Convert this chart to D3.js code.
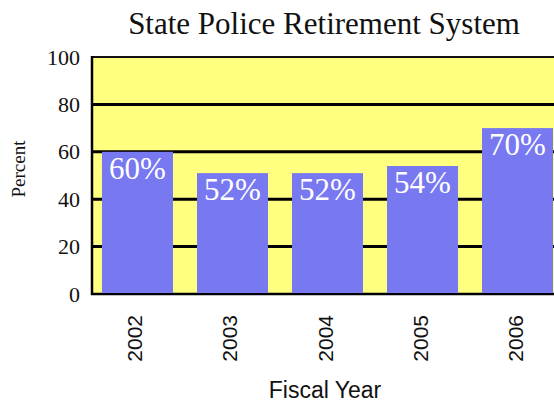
<!DOCTYPE html>
<html><head><meta charset="utf-8">
<script src="https://cdn.jsdelivr.net/npm/d3@7"></script>
<style>html,body{margin:0;padding:0;background:#fff;overflow:hidden}
.sf{font-family:"Liberation Serif","Times New Roman",Times,serif}
.ss{font-family:"Liberation Sans",Arial,Helvetica,sans-serif}
</style>
</head><body>
<svg id="c" width="554" height="403"></svg>
<script>
const years = ["2002","2003","2004","2005","2006"];
const values = [60, 51, 51, 54, 70];
const valueLabels = ["60%","52%","52%","54%","70%"];
const yTicks = [0, 20, 40, 60, 80, 100];
const gridTicks = [20, 40, 60, 80];
const title = "State Police Retirement System";
const xTitle = "Fiscal Year";
const yTitle = "Percent";

(function () {
const svg = d3.select("#c");
const pLeft = 92, pRight = 563, pTop = 57, pBottom = 294;
const x = d3.scaleBand().domain(years).range([pLeft, pRight]).paddingInner(0.2526).paddingOuter(0.105);
const y = d3.scaleLinear().domain([0, 100]).range([pBottom, pTop]);

svg.append("rect").attr("x", pLeft).attr("y", y(100)).attr("width", pRight - pLeft).attr("height", y(0) - y(100))
  .attr("fill", "#FFFF80");

svg.append("g").selectAll("line").data(gridTicks).join("line")
  .attr("x1", pLeft).attr("x2", pRight).attr("y1", d => y(d)).attr("y2", d => y(d))
  .attr("stroke", "#000").attr("stroke-width", 3);
svg.append("line").attr("x1", pLeft).attr("x2", pRight).attr("y1", y(100)).attr("y2", y(100))
  .attr("stroke", "#111").attr("stroke-width", 2);
svg.append("line").attr("x1", pLeft - 1).attr("x2", pRight).attr("y1", y(0)).attr("y2", y(0))
  .attr("stroke", "#000").attr("stroke-width", 2.5);

svg.append("g").selectAll("rect").data(values).join("rect")
  .attr("x", (d, i) => x(years[i])).attr("width", x.bandwidth())
  .attr("y", d => y(d)).attr("height", d => y(0) - y(d) - 1)
  .attr("fill", "#7878F0");

svg.append("line").attr("x1", pLeft).attr("x2", pLeft).attr("y1", y(100) - 1).attr("y2", y(0) + 1)
  .attr("stroke", "#000").attr("stroke-width", 2.5);

svg.append("g").selectAll("text").data(values).join("text")
  .attr("class", "sf")
  .attr("x", (d, i) => x(years[i]) + x.bandwidth() / 2).attr("y", d => y(d) + 27)
  .attr("text-anchor", "middle").attr("fill", "#fff")
  .style("font-size", "31px")
  .text((d, i) => valueLabels[i]);

const yAxis = d3.axisLeft(y).tickValues(yTicks).tickSize(0).tickPadding(12).tickFormat(d3.format("d"));
const gy = svg.append("g").attr("transform", `translate(${pLeft},0)`).call(yAxis)
  .attr("font-family", null).attr("font-size", null);
gy.select(".domain").remove();
gy.selectAll("text").attr("class", "sf").style("font-size", "22px").attr("fill", "#111");

svg.append("g").selectAll("text").data(years).join("text")
  .attr("class", "ss")
  .attr("transform", d => `translate(${x(d) + x.bandwidth() / 2 + 5},315) rotate(-90)`)
  .attr("text-anchor", "end")
  .style("font-size", "21px").attr("fill", "#111")
  .text(d => d);

svg.append("text").attr("class", "sf").attr("x", 324).attr("y", 34).attr("text-anchor", "middle")
  .style("font-size", "31px").attr("fill", "#111").text(title);
svg.append("text").attr("class", "ss").attr("x", 325).attr("y", 398).attr("text-anchor", "middle")
  .style("font-size", "23px").attr("fill", "#111").text(xTitle);
svg.append("text").attr("class", "sf").attr("transform", "translate(25,169) rotate(-90)").attr("text-anchor", "middle")
  .style("font-size", "19px").attr("fill", "#111").text(yTitle);
})();
</script>
</body></html>
